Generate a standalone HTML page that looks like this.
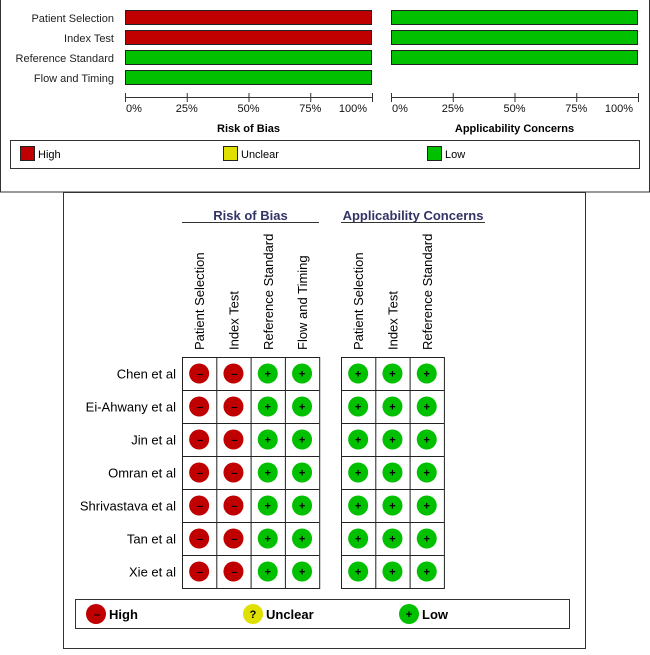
<!DOCTYPE html>
<html><head><meta charset="utf-8"><style>
body{margin:0;background:#fff;font-family:"Liberation Sans",Arial,sans-serif}
svg text{font-family:"Liberation Sans",Arial,sans-serif}
</style></head><body>
<svg id="chartsvg" width="650" height="650" xmlns="http://www.w3.org/2000/svg">
<rect x="0.5" y="-1" width="649" height="193" fill="#fff" stroke="#333"/>
<rect x="63.5" y="192.5" width="522" height="456" fill="#fff" stroke="#333"/>
<g id="root"></g>
</svg>
<script>
const domains=["Patient Selection","Index Test","Reference Standard","Flow and Timing"];
const robHigh=[100,100,0,0];
const robLow=[0,0,100,100];
const appHigh=[0,0,0];
const appLow=[100,100,100];
const ticks=[0,25,50,75,100];
const studies=["Chen et al","Ei-Ahwany et al","Jin et al","Omran et al","Shrivastava et al","Tan et al","Xie et al"];
const robCols=["Patient Selection","Index Test","Reference Standard","Flow and Timing"];
const appCols=["Patient Selection","Index Test","Reference Standard"];
const robJ=[["H","H","L","L"],["H","H","L","L"],["H","H","L","L"],["H","H","L","L"],["H","H","L","L"],["H","H","L","L"],["H","H","L","L"]];
const appJ=[["L","L","L"],["L","L","L"],["L","L","L"],["L","L","L"],["L","L","L"],["L","L","L"],["L","L","L"]];
const COL={H:"#c00000",U:"#e0e000",L:"#00c000"};
const root=document.getElementById('root');const NS="http://www.w3.org/2000/svg";
function mk(t,a,txt){const e=document.createElementNS(NS,t);for(const k in a)e.setAttribute(k,a[k]);if(txt!=null)e.textContent=txt;root.appendChild(e);return e;}
function panel(x0,w,hi,lo,title,key){
 const sx=v=>x0+v/100*w;
 hi.forEach((v,i)=>{const y=10+i*20;
  if(v>0){const r=mk('rect',{x:sx(0)+0.5,y:y+0.5,width:sx(v)-sx(0)-1,height:14,fill:COL.H,stroke:'#222'});
   
   }
  if(lo[i]>0){const r=mk('rect',{x:sx(v)+0.5,y:y+0.5,width:sx(v+lo[i])-sx(v)-1,height:14,fill:COL.L,stroke:'#222'});
   
   }
 });
 const ax=mk('line',{x1:sx(0),x2:sx(100),y1:97.5,y2:97.5,stroke:'#333'});
 
 
 ticks.forEach(t=>{mk('line',{x1:sx(t)+0.5,x2:sx(t)+0.5,y1:93,y2:102,stroke:'#333'});
  const tl=mk('text',{x:t==0?sx(t)+1:t==100?sx(t)-19:sx(t),y:112,'font-size':11,'text-anchor':t==0?'start':'middle',fill:'#111'},t+'%');
  
  });
 const tt=mk('text',{x:sx(50),y:132,'font-size':11,'font-weight':'bold','text-anchor':'middle'},title);
 
 
}
domains.forEach((d,i)=>{const t=mk('text',{x:114,y:22+i*20,'font-size':11,'text-anchor':'end',fill:'#222'},d);
 
 });
panel(125,247,robHigh,robLow,"Risk of Bias","rob");
panel(391,247,appHigh,appLow,"Applicability Concerns","app");
const sl=mk('rect',{x:10.5,y:140.5,width:629,height:28,fill:'#fff',stroke:'#333'});


[["High",COL.H,20],["Unclear",COL.U,223],["Low",COL.L,427]].forEach(([l,c,x])=>{
 const r=mk('rect',{x:x+0.5,y:146.5,width:14,height:14,fill:c,stroke:'#222'});
 
 
 const t=mk('text',{x:x+18,y:158,'font-size':11},l);
 
 });
const cw=34.3,rh=33,gridTop=357;
function sym(cx,cy,j,r){const ci=mk('circle',{cx,cy,r,fill:COL[j]});
 
 
 mk('text',{x:cx+(j=='H'?1:0),y:cy+4,'font-size':11,'font-weight':'bold','text-anchor':'middle'},j=='H'?'–':j=='L'?'+':'?');}
function grid(x0,cols,J,title,key,ux2){
 const h=mk('text',{x:(x0+ux2)/2,y:220,'font-size':13,'font-weight':'bold','text-anchor':'middle',fill:'#333366'},title);
 
 
 mk('line',{x1:x0,x2:ux2,y1:222.5,y2:222.5,stroke:'#333'});
 cols.forEach((c,k)=>{const x=x0+(k+0.5)*cw+5;
  const t=mk('text',{x,y:350,'font-size':13,transform:`rotate(-90 ${x} 350)`},c);
  
  });
 const w=cols.length*cw;
 mk('rect',{x:x0+0.5,y:gridTop+0.5,width:w,height:rh*studies.length,fill:'none',stroke:'#222'});
 for(let k=1;k<cols.length;k++)mk('line',{x1:x0+k*cw+0.5,x2:x0+k*cw+0.5,y1:gridTop,y2:gridTop+rh*studies.length,stroke:'#222'});
 for(let i=1;i<studies.length;i++)mk('line',{x1:x0,x2:x0+w,y1:gridTop+i*rh+0.5,y2:gridTop+i*rh+0.5,stroke:'#222'});
 J.forEach((row,i)=>row.forEach((j,k)=>sym(x0+(k+0.5)*cw,gridTop+(i+0.5)*rh,j,10)));
}
studies.forEach((s,i)=>{const t=mk('text',{x:176,y:gridTop+(i+0.5)*rh+5,'font-size':13,'text-anchor':'end'},s);
 
 });
grid(182,robCols,robJ,"Risk of Bias","rob-table",319);
grid(341,appCols,appJ,"Applicability Concerns","app-table",485);
const tlg=mk('rect',{x:75.5,y:599.5,width:494,height:29,fill:'#fff',stroke:'#333'});


[["High","H",96],["Unclear","U",253],["Low","L",409]].forEach(([l,j,x])=>{
 sym(x,614,j,10);
 const t=mk('text',{x:x+13,y:619,'font-size':13,'font-weight':'bold'},l);
 
 });
</script>
</body></html>
